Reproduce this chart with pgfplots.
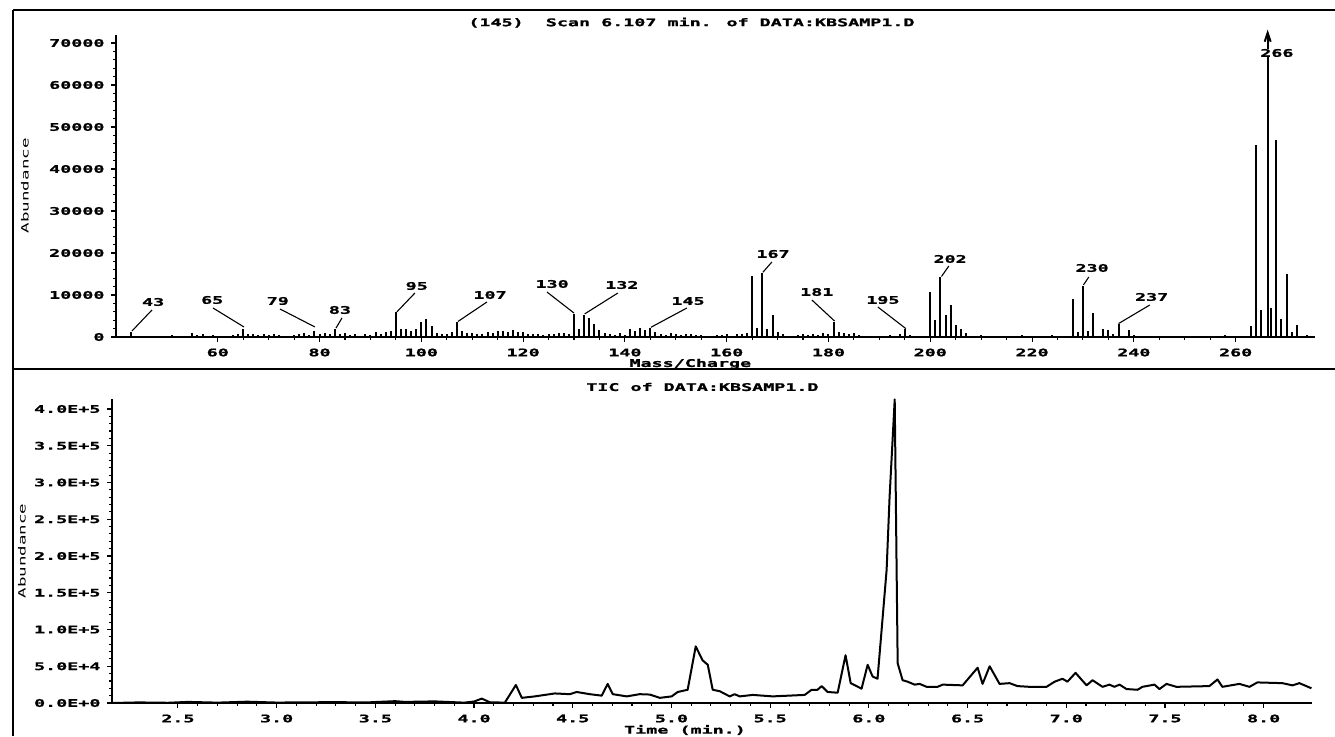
\documentclass[border=0pt]{standalone}
\usepackage{fontspec}
\setmainfont{DejaVu Sans Mono}[FakeStretch=1.75, BoldFeatures={FakeBold=1.2}]
\usepackage{pgfplots}
\usepackage{pgfplotstable}
\pgfplotsset{compat=1.18}
\usetikzlibrary{arrows.meta}

\newcommand{\pf}{\fontsize{10.5}{12}\selectfont\bfseries}

\pgfplotstableread{
mz ab
41 300
43 1200
46 300
51 500
53 300
55 900
56 400
57 700
59 500
60 300
62 300
63 400
64 600
65 1800
66 700
67 800
68 500
69 800
70 400
71 700
72 500
73 300
75 400
76 600
77 900
78 500
79 1400
80 600
81 900
82 700
83 2000
84 800
85 1000
86 500
87 600
88 300
89 700
90 500
91 1200
92 800
93 1300
94 1500
95 6000
96 1800
97 2000
98 1400
99 1800
100 3600
101 4300
102 2600
103 900
104 600
105 700
106 1200
107 3500
108 1400
109 900
110 1000
111 700
112 800
113 1200
114 900
115 1400
116 1500
117 1300
118 1600
119 1200
120 1100
121 800
122 600
123 700
124 500
125 800
126 700
127 900
128 1000
129 600
130 5500
131 1800
132 5300
133 4600
134 3200
135 1600
136 900
137 600
138 500
139 900
140 400
141 1900
142 1400
143 2200
144 1700
145 2100
146 1200
147 700
148 500
149 900
150 600
151 400
152 600
153 800
154 500
155 400
157 300
158 500
159 400
160 700
161 300
162 600
163 800
164 900
165 14500
166 2200
167 15200
168 1800
169 5200
170 1200
171 600
174 400
175 800
176 500
177 600
178 500
179 900
180 600
181 3600
182 1300
183 1000
184 800
185 900
186 400
188 300
192 400
194 800
195 1800
196 500
198 300
200 10600
201 4000
202 14200
203 5200
204 7500
205 2900
206 2000
207 1000
210 400
212 300
215 300
218 400
221 300
224 400
226 300
228 9000
229 1300
230 12200
231 1400
232 5800
234 1800
235 1700
236 600
237 3000
239 1700
240 500
243 300
246 300
250 300
255 300
258 400
261 300
263 2600
264 45700
265 6500
267 6900
268 47000
269 4300
270 15000
271 1300
272 2900
274 400
}\ms

\pgfplotstableread{
t ab
2.166 0
2.30 800
2.45 300
2.55 1500
2.70 500
2.85 1800
3.00 600
3.15 900
3.30 1200
3.45 700
3.60 2500
3.65 1500
3.80 2200
3.95 500
4.00 2000
4.039 6000
4.08 1000
4.156 500
4.212 24500
4.242 7000
4.308 9000
4.409 13000
4.485 12000
4.52 15000
4.586 12000
4.647 10000
4.677 26000
4.703 12000
4.774 9000
4.839 12000
4.89 11500
4.941 7000
5.001 9000
5.032 15000
5.082 18000
5.123 77000
5.158 58000
5.184 52000
5.209 18000
5.245 16000
5.295 9000
5.32 12000
5.346 9000
5.412 11000
5.513 9000
5.675 11000
5.71 18000
5.74 18000
5.761 23000
5.791 15000
5.842 14000
5.882 65000
5.908 27000
5.963 19500
5.994 52000
6.019 36000
6.044 33000
6.09 181000
6.105 280000
6.131 413000
6.146 54000
6.171 31000
6.196 29000
6.232 25000
6.257 26000
6.293 22000
6.348 22000
6.374 25000
6.475 24000
6.551 48000
6.576 26000
6.612 50000
6.662 26000
6.713 27000
6.753 23000
6.814 22000
6.90 22000
6.941 29000
6.981 33000
7.006 29000
7.047 41000
7.103 24000
7.133 31000
7.184 22000
7.219 25000
7.244 22000
7.27 25000
7.305 19000
7.361 18000
7.386 22000
7.447 25000
7.472 19000
7.508 26000
7.558 22000
7.725 23000
7.766 32000
7.791 22000
7.877 26000
7.928 22000
7.968 28000
8.095 27000
8.146 24000
8.181 27000
8.242 20000
}\tic

\pgfplotsset{
  chem/.style={
    scale only axis,
    axis x line=bottom,
    axis y line=left,
    axis line style={-, line width=1.5pt},
    tick align=outside,
    major tick length=5pt,
    minor tick length=3pt,
    every tick/.style={black, line width=1.1pt},
    tick label style={font=\pf},
    label style={font=\pf},
    title style={font=\pf},
    every axis title shift=0pt,
    scaled y ticks=false,
    scaled x ticks=false,
    /pgf/number format/assume math mode=true,
    clip=false,
  }
}

\begin{document}
\begin{tikzpicture}[x=1pt,y=1pt]
\useasboundingbox (0,0) rectangle (1335,736);
% frame
\draw[line width=1.8pt] (13,726) -- (1335,726);
\draw[line width=1.8pt] (13,726) -- (13,0);
\draw[line width=2pt] (13,367) -- (1335,367);

% ---------- top: mass spectrum ----------
\begin{axis}[chem,
  at={(116pt,399pt)}, anchor=south west,
  width=1199pt, height=302.4pt,
  xmin=40, xmax=275.6, ymin=0, ymax=72000,
  xtick={60,80,...,260},
  xticklabels={60,80,100,120,140,160,180,200,220,240,260},
  minor x tick num=3,
  ytick={0,10000,20000,30000,40000,50000,60000,70000},
  yticklabels={0,10000,20000,30000,40000,50000,60000,70000},
  minor y tick num=4,
  yticklabel style={xshift=-3pt},
  xticklabel style={yshift=-3pt},
  title={(145)~~Scan 6.107 min. of DATA:KBSAMP1.D},
  title style={at={(axis description cs:0.48,1)}, anchor=center, yshift=12pt},
  xlabel={Mass/Charge},
  xlabel style={at={(axis description cs:0.479,0)}, anchor=center, yshift=-27pt},
  ylabel={Abundance},
  every axis y label/.style={at={(axis description cs:-0.076,0.5)}, rotate=90, anchor=center},
]
\addplot[ycomb, line width=2pt, black] table[x=mz, y=ab] {\ms};
\addplot[line width=2pt, black, -{Straight Barb[length=9pt, width=6pt]}] coordinates {(266.3,0) (266.3,73200)};
% peak labels
\node[font=\pf] at (axis cs:47.3,8333) {43};
\draw[line width=1.1pt] (axis cs:47.07,6429) -- (axis cs:43.14,1429);
\node[font=\pf] at (axis cs:58.9,8810) {65};
\draw[line width=1.1pt] (axis cs:59.06,6905) -- (axis cs:65.15,2381);
\node[font=\pf] at (axis cs:71.8,8571) {79};
\draw[line width=1.1pt] (axis cs:72.22,6667) -- (axis cs:79.1,2381);
\node[font=\pf] at (axis cs:84.0,6429) {83};
\draw[line width=1.1pt] (axis cs:84.4,4524) -- (axis cs:83.22,2100);
\node[font=\pf] at (axis cs:99.1,12143) {95};
\draw[line width=1.1pt] (axis cs:98.74,10476) -- (axis cs:95.21,6000);
\node[font=\pf] at (axis cs:113.5,10000) {107};
\draw[line width=1.1pt] (axis cs:112.89,8333) -- (axis cs:107.2,3700);
\node[font=\pf] at (axis cs:125.7,12619) {130};
\draw[line width=1.1pt] (axis cs:124.68,10714) -- (axis cs:130,5700);
\node[font=\pf] at (axis cs:139.4,12381) {132};
\draw[line width=1.1pt] (axis cs:138.62,10476) -- (axis cs:132.1,5500);
\node[font=\pf] at (axis cs:152.4,8571) {145};
\draw[line width=1.1pt] (axis cs:152.18,6905) -- (axis cs:145.1,2300);
\node[font=\pf] at (axis cs:169.1,19762) {167};
\draw[line width=1.1pt] (axis cs:168.88,17857) -- (axis cs:167.1,15400);
\node[font=\pf] at (axis cs:177.7,10714) {181};
\draw[line width=1.1pt] (axis cs:176.74,8810) -- (axis cs:181.2,3800);
\node[font=\pf] at (axis cs:190.7,8810) {195};
\draw[line width=1.1pt] (axis cs:189.7,7143) -- (axis cs:195.2,2000);
\node[font=\pf] at (axis cs:203.9,18571) {202};
\draw[line width=1.1pt] (axis cs:203.65,16905) -- (axis cs:202.2,14400);
\node[font=\pf] at (axis cs:231.8,16429) {230};
\draw[line width=1.1pt] (axis cs:231.16,14286) -- (axis cs:230.1,12400);
\node[font=\pf] at (axis cs:243.5,9524) {237};
\draw[line width=1.1pt] (axis cs:243.14,7619) -- (axis cs:237,3200);
\node[font=\pf, fill=white, inner sep=0pt] at (axis cs:268.1,67619) {266};
\end{axis}

% ---------- bottom: TIC ----------
\begin{axis}[chem,
  at={(112pt,33pt)}, anchor=south west,
  width=1200pt, height=304pt,
  xmin=2.166, xmax=8.245, ymin=0, ymax=413600,
  xtick={2.5,3.0,3.5,4.0,4.5,5.0,5.5,6.0,6.5,7.0,7.5,8.0},
  xticklabels={2.5,3.0,3.5,4.0,4.5,5.0,5.5,6.0,6.5,7.0,7.5,8.0},
  minor x tick num=4,
  ytick={0,50000,100000,150000,200000,250000,300000,350000,400000},
  yticklabels={0.0E+0,5.0E+4,1.0E+5,1.5E+5,2.0E+5,2.5E+5,3.0E+5,3.5E+5,4.0E+5},
  minor y tick num=4,
  yticklabel style={xshift=-3pt},
  xticklabel style={yshift=-3pt},
  title={TIC of DATA:KBSAMP1.D},
  title style={at={(axis description cs:0.492,1)}, anchor=center, yshift=12pt},
  xlabel={Time (min.)},
  xlabel style={at={(axis description cs:0.4775,0)}, anchor=center, yshift=-27pt},
  ylabel={Abundance},
  every axis y label/.style={at={(axis description cs:-0.075,0.5)}, rotate=90, anchor=center},
]
\addplot[line width=2pt, black, line join=round] table[x=t, y=ab] {\tic};
\end{axis}
\end{tikzpicture}
\end{document}
